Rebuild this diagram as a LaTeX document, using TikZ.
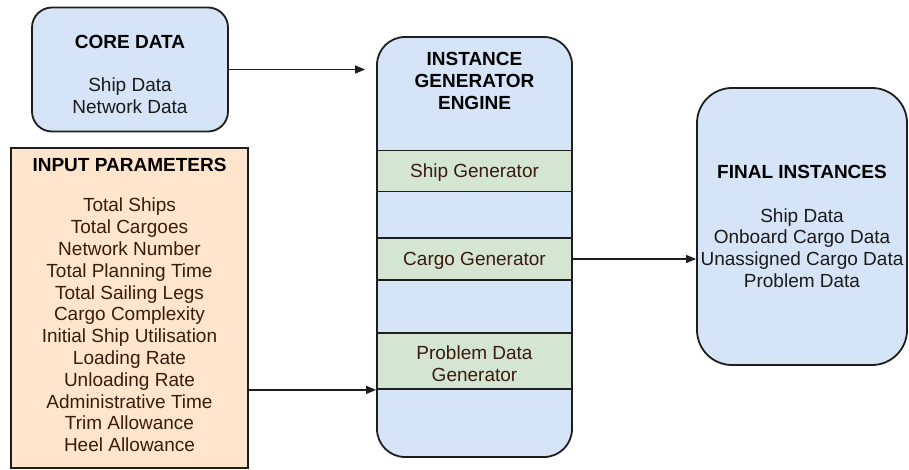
\documentclass[tikz,border=0pt]{standalone}
\usepackage{fontspec}
\setmainfont{Liberation Sans}
\usetikzlibrary{arrows.meta}

\definecolor{bluefill}{HTML}{D6E4F8}
\definecolor{greenfill}{HTML}{D4E5D2}
\definecolor{orangefill}{HTML}{FFE5CC}
\definecolor{edge}{HTML}{1E1E1E}
\definecolor{darkbody}{HTML}{1A1A1A}
\definecolor{brownbody}{HTML}{3A1B0C}

\tikzset{
  box/.style={draw=edge, line width=1.8pt, inner sep=0pt},
  txt/.style={font=\fontsize{19}{21.8}\selectfont, align=center, inner sep=0pt},
  ttl/.style={font=\fontsize{19}{21.8}\selectfont\bfseries, align=center, inner sep=0pt, text=black},
  link/.style={draw=edge, line width=1.2pt, -{Triangle[length=10pt,width=8pt]}}
}

\begin{document}
\begin{tikzpicture}[x=1pt,y=-1pt]
\useasboundingbox (0,0) rectangle (909,470);

% core data
\node[box, fill=bluefill, rounded corners=20pt, minimum width=196pt, minimum height=124pt] (core) at (130,69.5) {};
\node[ttl] (coret) at (130,42) {CORE DATA};
\node[txt, text=darkbody] (coreb) at (130,96) {Ship Data\\Network Data};

% input parameters
\node[box, fill=orangefill, minimum width=237pt, minimum height=320pt] (input) at (129.5,308) {};
\node[ttl] (inputt) at (129.5,165) {INPUT PARAMETERS};
\node[txt, text=brownbody] (inputb) at (129.5,325) {Total Ships\\Total Cargoes\\Network Number\\Total Planning Time\\Total Sailing Legs\\Cargo Complexity\\Initial Ship Utilisation\\Loading Rate\\Unloading Rate\\Administrative Time\\Trim Allowance\\Heel Allowance};

% generator engine with its three stages
\node[box, fill=bluefill, rounded corners=28pt, minimum width=195pt, minimum height=420pt] (engine) at (474.5,247) {};
\node[ttl] (enginet) at (474.5,81) {INSTANCE\\GENERATOR\\ENGINE};
\node[box, fill=greenfill, minimum width=195pt, minimum height=41pt] (ship) at (474.5,171) {};
\node[txt, text=brownbody] (shipt) at (474.5,173) {Ship Generator};
\node[box, fill=greenfill, minimum width=195pt, minimum height=42pt] (cargo) at (474.5,259) {};
\node[txt, text=brownbody] (cargot) at (474.5,261) {Cargo Generator};
\node[box, fill=greenfill, minimum width=195pt, minimum height=56pt] (pd) at (474.5,361) {};
\node[txt, text=brownbody] (pdt) at (474.5,364) {Problem Data\\Generator};

% final instances
\node[box, fill=bluefill, rounded corners=35pt, minimum width=210pt, minimum height=277pt] (final) at (802,226.5) {};
\node[ttl] (finalt) at (802,172) {FINAL INSTANCES};
\node[txt, text=darkbody] (finalb) at (802,248) {Ship Data\\Onboard Cargo Data\\Unassigned Cargo Data\\Problem Data};

% connectors
\draw[link, shorten >=11pt] (core.east) -- (core.east -| engine.west);
\draw[link] (pd.south west -| input.east) -- (pd.south west);
\draw[link] (cargo.east) -- (cargo.east -| final.west);
\end{tikzpicture}
\end{document}
